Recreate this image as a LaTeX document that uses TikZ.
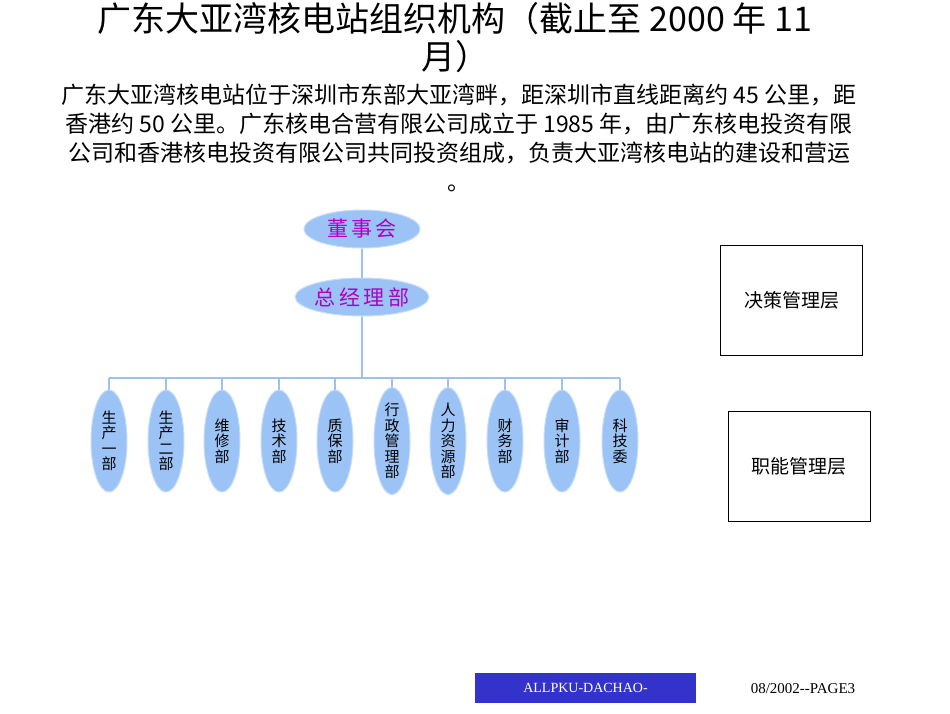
\documentclass[tikz,border=0pt]{standalone}
\usepackage{fontspec}
\setmainfont{Liberation Serif}
\newfontfamily\cjk{Noto Sans CJK SC}
\usetikzlibrary{shapes.geometric}
\definecolor{ebl}{HTML}{9CC3F5}
\definecolor{lnb}{HTML}{9CC3F0}
\definecolor{pur}{HTML}{B000C0}
\definecolor{bbl}{HTML}{3333CC}
\tikzset{x=1pt,y=-1pt,
 top/.style={ellipse,fill=ebl,draw=ebl!60!white,line width=1pt,minimum width=116pt,minimum height=38pt,inner sep=0pt,text=pur,font=\cjk\fontsize{21}{21}\selectfont},
 dept/.style={ellipse,fill=ebl,draw=ebl!60!white,line width=1pt,minimum width=36pt,minimum height=102pt,inner sep=0pt,align=center,font=\cjk\fontsize{15}{15.5}\selectfont},
 conn/.style={draw=lnb,line width=2pt},
 lbox/.style={draw,line width=0.6pt,minimum width=142pt,minimum height=110pt,font=\cjk\fontsize{19}{19}\selectfont}}
\begin{document}
\begin{tikzpicture}
\useasboundingbox (0,0) rectangle (950,713);
\node[font=\cjk\fontsize{34}{38}\selectfont,align=center] (title) at (455,38) {广东大亚湾核电站组织机构（截止至 2000 年 11\\月）};
\node[font=\cjk\fontsize{23}{29}\selectfont,align=center] (para) at (459,138) {广东大亚湾核电站位于深圳市东部大亚湾畔，距深圳市直线距离约 45 公里，距\\香港约 50 公里。广东核电合营有限公司成立于 1985 年，由广东核电投资有限\\公司和香港核电投资有限公司共同投资组成，负责大亚湾核电站的建设和营运\\。};
\node[top] (dsh) at (362,229) {董\,事\,会};
\node[top] (zjl) at (362,297) {总\,经\,理\,部};
\coordinate (bar) at (362,378);
\draw[conn] (dsh) -- (zjl);
\draw[conn] (zjl) -- (bar);
\draw[conn] (109,378) -- (620,378);
\foreach \i/\x/\t in {1/109/生\\产\\一\\部,2/166/生\\产\\二\\部,3/222/维\\修\\部,4/279/技\\术\\部,5/335/质\\保\\部,6/392/行\\政\\管\\理\\部,7/448/人\\力\\资\\源\\部,8/505/财\\务\\部,9/562/审\\计\\部,10/620/科\\技\\委}{
  \node[dept] (d\i) at (\x,441) {\t};
  \coordinate (t\i) at (\x,378);
  \draw[conn] (t\i) -- (d\i);
}
\node[lbox] (jc) at (791.5,300.5) {决策管理层};
\node[lbox] (zn) at (799,466.5) {职能管理层};
\node[fill=bbl,minimum width=221pt,minimum height=30pt,text=white,font=\fontsize{14}{14}\selectfont] (foot) at (585.5,688) {ALLPKU-DACHAO-};
\node[font=\fontsize{15}{15}\selectfont] (page) at (803,689) {08/2002-{}-PAGE3};
\end{tikzpicture}
\end{document}
